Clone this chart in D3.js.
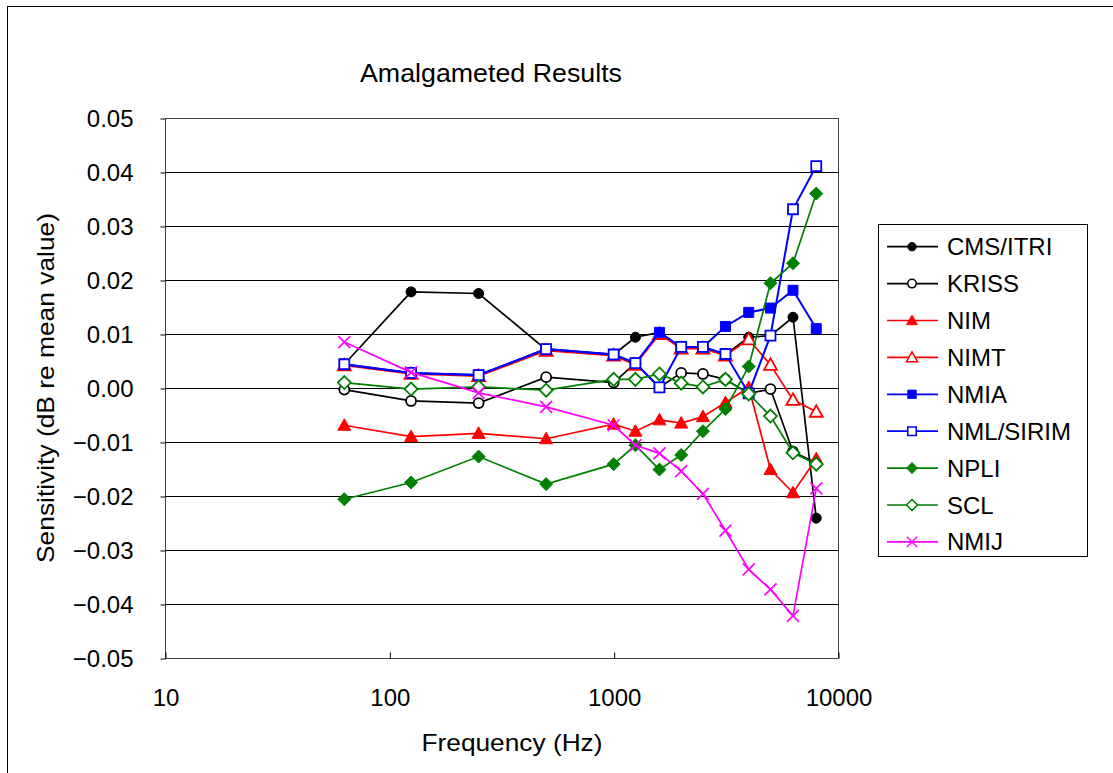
<!DOCTYPE html>
<html lang="en">
<head>
  <meta charset="UTF-8">
  <script src="https://d3js.org/d3.v7.min.js"></script>
  <title>Amalgameted Results</title>
  <style>
    body {
      margin: 0;
      background: white;
      font-family: "Liberation Sans", Arial, sans-serif;
      overflow: hidden;
    }
    text { fill: #000; }
  </style>
</head>
<body>
<script>
  // Frequencies (Hz) and sensitivity deviations (dB re mean value)
  const freqs = [63, 125, 250, 500, 1000, 1250, 1600, 2000, 2500, 3150, 4000, 5000, 6300, 8000];

  const cmsItri  = [0.0044, 0.0178, 0.0175, 0.0071, 0.0062, 0.0094, 0.0103, 0.0075, 0.0076, 0.0062, 0.0094, 0.0097, 0.0131, -0.0241];
  const kriss    = [-0.0003, -0.0024, -0.0028, 0.0020, 0.0010, 0.0046, 0.0001, 0.0028, 0.0026, 0.0016, -0.0010, -0.0002, -0.0118, -0.0139];
  const nim      = [-0.0069, -0.0090, -0.0084, -0.0094, -0.0067, -0.0080, -0.0059, -0.0065, -0.0053, -0.0027, 0.0001, -0.0151, -0.0194, -0.0131];
  const nimt     = [0.0042, 0.0026, 0.0022, 0.0069, 0.0060, 0.0043, 0.0100, 0.0073, 0.0073, 0.0060, 0.0090, 0.0043, -0.0022, -0.0044];
  const nmia     = [0.0044, 0.0028, 0.0024, 0.0072, 0.0062, 0.0046, 0.0103, 0.0076, 0.0076, 0.0114, 0.0140, 0.0148, 0.0181, 0.0110];
  const nmlSirim = [0.0044, 0.0028, 0.0024, 0.0072, 0.0062, 0.0046, 0.0001, 0.0076, 0.0076, 0.0063, -0.0010, 0.0097, 0.0331, 0.0411];
  const npli     = [-0.0206, -0.0175, -0.0127, -0.0178, -0.0141, -0.0106, -0.0151, -0.0124, -0.0080, -0.0039, 0.0040, 0.0194, 0.0231, 0.0360];
  const scl      = [0.0010, -0.0002, 0.0002, -0.0004, 0.0016, 0.0016, 0.0026, 0.0009, 0.0002, 0.0016, -0.0011, -0.0052, -0.0120, -0.0141];
  const nmij     = [0.0085, 0.0029, -0.0009, -0.0035, -0.0069, -0.0106, -0.0121, -0.0154, -0.0196, -0.0264, -0.0336, -0.0373, -0.0422, -0.0186];

  const xTicks = [10, 100, 1000, 10000];
  const yTicks = [0.05, 0.04, 0.03, 0.02, 0.01, 0, -0.01, -0.02, -0.03, -0.04, -0.05];

  const series = [
    { name: "CMS/ITRI",  values: cmsItri,  color: "#000000", marker: "circle",   filled: true },
    { name: "KRISS",     values: kriss,    color: "#000000", marker: "circle",   filled: false },
    { name: "NIM",       values: nim,      color: "#ff0000", marker: "triangle", filled: true },
    { name: "NIMT",      values: nimt,     color: "#ff0000", marker: "triangle", filled: false },
    { name: "NMIA",      values: nmia,     color: "#0000ff", marker: "square",   filled: true },
    { name: "NML/SIRIM", values: nmlSirim, color: "#0000ff", marker: "square",   filled: false },
    { name: "NPLI",      values: npli,     color: "#008000", marker: "diamond",  filled: true },
    { name: "SCL",       values: scl,      color: "#008000", marker: "diamond",  filled: false },
    { name: "NMIJ",      values: nmij,     color: "#ff00ff", marker: "x",        filled: false }
  ];

  const width = 1113, height = 773;
  const plot = { left: 165, right: 838, top: 118, bottom: 658 };

  const svg = d3.select("body").append("svg")
    .attr("width", width)
    .attr("height", height);

  // outer chart frame (right and bottom edges run off the page)
  svg.append("rect")
    .attr("x", 7.5).attr("y", 6.5)
    .attr("width", 1200).attr("height", 1000)
    .attr("fill", "white")
    .attr("stroke", "#000").attr("stroke-width", 1);

  const x = d3.scaleLog().domain([10, 10000]).range([plot.left, plot.right]);
  const y = d3.scaleLinear().domain([-0.05, 0.05]).range([plot.bottom, plot.top]);

  // gridlines
  svg.append("g")
    .selectAll("line")
    .data(yTicks)
    .enter().append("line")
    .attr("x1", plot.left).attr("x2", plot.right)
    .attr("y1", d => Math.round(y(d)) + 0.5)
    .attr("y2", d => Math.round(y(d)) + 0.5)
    .attr("stroke", "#000").attr("stroke-width", 1);

  // plot border
  svg.append("rect")
    .attr("x", plot.left + 0.5).attr("y", plot.top + 0.5)
    .attr("width", plot.right - plot.left).attr("height", plot.bottom - plot.top)
    .attr("fill", "none")
    .attr("stroke", "#404040").attr("stroke-width", 1);

  // y axis
  const yAxis = svg.append("g")
    .attr("transform", `translate(${plot.left + 0.5},0.5)`)
    .call(d3.axisLeft(y).tickValues(yTicks).tickFormat(d3.format(".2f")).tickSize(5).tickPadding(27));
  yAxis.select(".domain").remove();
  yAxis.selectAll("line").attr("stroke", "#000");
  yAxis.selectAll("text")
    .attr("font-size", 24)
    .attr("font-family", "'Liberation Sans', Arial, sans-serif")
    .attr("dy", "0.35em");

  // x axis
  const xAxis = svg.append("g")
    .attr("transform", `translate(0.5,${plot.bottom + 0.5})`)
    .call(d3.axisBottom(x).tickValues(xTicks).tickFormat(d3.format("d")).tickSizeInner(-6).tickSizeOuter(0).tickPadding(30));
  xAxis.select(".domain").remove();
  xAxis.selectAll("line").attr("stroke", "#000");
  xAxis.selectAll("text")
    .attr("font-size", 24)
    .attr("font-family", "'Liberation Sans', Arial, sans-serif");

  // marker shapes
  function markerPath(type) {
    switch (type) {
      case "circle":   return d3.symbol(d3.symbolCircle, Math.PI * 5 * 5)();
      case "triangle": return "M0,-6.5L6.5,5L-6.5,5Z";
      case "square":   return "M-5,-5H5V5H-5Z";
      case "diamond":  return "M0,-6.5L6.5,0L0,6.5L-6.5,0Z";
      case "x":        return "M-6,-6L6,6M-6,6L6,-6";
    }
  }

  function drawMarker(sel, s) {
    sel.append("path")
      .attr("d", markerPath(s.marker))
      .attr("fill", s.marker === "x" ? "none" : (s.filled ? s.color : "white"))
      .attr("stroke", s.color)
      .attr("stroke-width", s.marker === "x" ? 1.6 : (s.filled ? 1 : 1.8));
  }

  const line = d3.line()
    .x((d, i) => x(freqs[i]))
    .y(d => y(d));

  series.forEach(s => {
    const g = svg.append("g");
    g.append("path")
      .datum(s.values)
      .attr("d", line)
      .attr("fill", "none")
      .attr("stroke", s.color)
      .attr("stroke-width", s.color === "#0000ff" ? 2 : 1.7);

    g.selectAll("g.pt")
      .data(s.values)
      .enter().append("g")
      .attr("class", "pt")
      .attr("transform", (d, i) => `translate(${x(freqs[i])},${y(d)})`)
      .each(function () { drawMarker(d3.select(this), s); });
  });

  // title and axis labels
  svg.append("text")
    .attr("x", 491).attr("y", 82)
    .attr("text-anchor", "middle")
    .attr("font-size", 25)
    .attr("textLength", 262).attr("lengthAdjust", "spacingAndGlyphs")
    .text("Amalgameted Results");

  svg.append("text")
    .attr("x", 512).attr("y", 751)
    .attr("text-anchor", "middle")
    .attr("font-size", 24)
    .attr("textLength", 181).attr("lengthAdjust", "spacingAndGlyphs")
    .text("Frequency (Hz)");

  svg.append("text")
    .attr("transform", "translate(54,388) rotate(-90)")
    .attr("text-anchor", "middle")
    .attr("font-size", 24)
    .attr("textLength", 350).attr("lengthAdjust", "spacingAndGlyphs")
    .text("Sensitivity (dB re mean value)");

  // legend
  const legend = svg.append("g");
  legend.append("rect")
    .attr("x", 878.5).attr("y", 224.5)
    .attr("width", 209).attr("height", 332)
    .attr("fill", "white")
    .attr("stroke", "#000").attr("stroke-width", 1);

  const rowStep = 36.9;
  const items = legend.selectAll("g.item")
    .data(series)
    .enter().append("g")
    .attr("class", "item")
    .attr("transform", (d, i) => `translate(0,${246.7 + i * rowStep})`);

  items.append("line")
    .attr("x1", 887).attr("x2", 938)
    .attr("stroke", d => d.color)
    .attr("stroke-width", 1.7);

  items.append("g")
    .attr("transform", "translate(912,0) scale(0.85)")
    .each(function (d) { drawMarker(d3.select(this), d); });

  items.append("text")
    .attr("x", 947).attr("y", 8.5)
    .attr("font-size", 24)
    .text(d => d.name);
</script>
</body>
</html>
